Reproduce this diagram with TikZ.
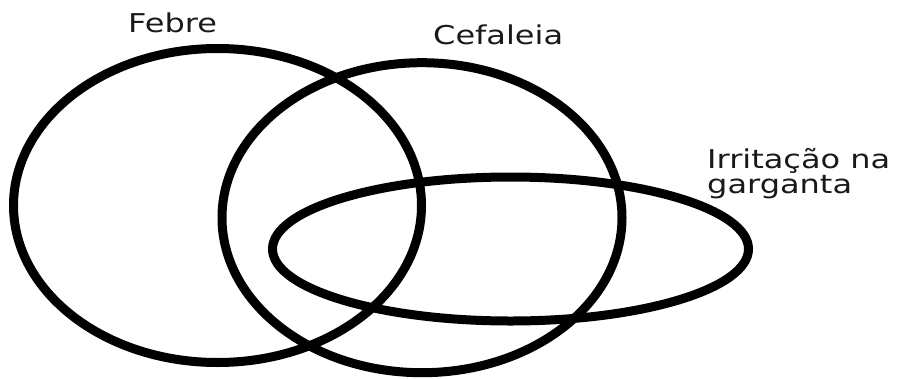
\documentclass[tikz,border=0pt]{standalone}
\usepackage{fontspec}
\setmainfont{DejaVu Sans}
\usepackage{graphicx}
\tikzset{
  venn/.style={draw=black, line width=9pt},
  lbl/.style={anchor=base west, inner sep=0pt, text=black!90,
    font=\fontsize{32}{29.5}\selectfont}
}
\newcommand{\squash}[1]{\scalebox{1}[0.81]{#1}}
\begin{document}
\begin{tikzpicture}[x=1pt,y=-1pt]
\useasboundingbox (0,0) rectangle (908,378);
\path[venn] (217.5,205.5) ellipse [x radius=204, y radius=157];
\path[venn] (422,217.7) ellipse [x radius=200, y radius=155];
\path[venn] (510.5,249) ellipse [x radius=238, y radius=72];
\node[lbl] (febre) at (128,32) {\squash{Febre}};
\node[lbl] (cefaleia) at (433,44) {\squash{Cefaleia}};
\node[lbl] (irrit) at (707,168) {\squash{\begin{tabular}[t]{@{}l@{}}Irritação na\\garganta\end{tabular}}};
\end{tikzpicture}
\end{document}
